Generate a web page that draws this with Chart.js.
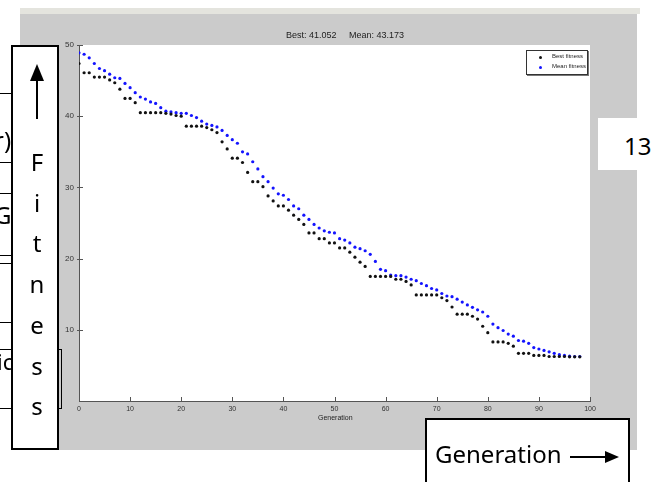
<!DOCTYPE html>
<html>
<head>
<meta charset="utf-8">
<script src="https://cdn.jsdelivr.net/npm/chart.js"></script>
<style>
    body { margin: 0; background: #fff; }
    #wrap { position: relative; width: 666px; height: 482px; overflow: hidden; }
    #ga-chart { position: absolute; left: 0; top: 0; }
    .ov { position: absolute; }
    .hl { position: absolute; height: 0; border-top: 1px solid #000; }
    .big { font-family: "Noto Sans", "Open Sans", sans-serif; font-size: 24px; color: #000; line-height: 1; }
    .small { font-family: "Liberation Sans Narrow", "Liberation Sans", Arial, sans-serif; color: #222; white-space: pre; }
</style>
</head>
<body>
<div id="wrap">
    <canvas id="ga-chart" width="666" height="482"></canvas>

    <!-- MATLAB title + x label -->
    <div class="ov small" style="left:286px; top:30px; font-size:9px;">Best: 41.052     Mean: 43.173</div>
    <div class="ov small" style="left:318px; top:414px; font-size:7px;">Generation</div>

    <!-- legend box -->
    <div class="ov" style="left:526px; top:50px; width:60px; height:23px; background:#fff; border:1px solid #333; box-shadow:1px 1px 0 #777;">
        <div class="ov" style="left:12px; top:5px; width:3px; height:3px; border-radius:2px; background:#111;"></div>
        <div class="ov small" style="left:25px; top:2px; font-size:6px;">Best fitness</div>
        <div class="ov" style="left:12px; top:15px; width:3px; height:3px; border-radius:2px; background:#1414ff;"></div>
        <div class="ov small" style="left:25px; top:12px; font-size:6px;">Mean fitness</div>
    </div>

    <!-- table fragments behind the left box -->
    <div class="hl" style="left:0; top:93px; width:14px;"></div>
    <div class="hl" style="left:0; top:162px; width:14px;"></div>
    <div class="hl" style="left:0; top:193px; width:14px;"></div>
    <div class="hl" style="left:0; top:255px; width:14px;"></div>
    <div class="hl" style="left:0; top:263px; width:14px;"></div>
    <div class="hl" style="left:0; top:322px; width:14px;"></div>
    <div class="ov" style="left:-2px; top:349px; width:62px; height:58px; border:1px solid #000;"></div>
    <div class="ov big" style="left:-6px; top:128px;">r)</div>
    <div class="ov big" style="left:-6px; top:203px;">G)</div>
    <div class="ov big" style="left:-3px; top:350px; font-size:22px;">ic</div>

    <!-- Fitness box -->
    <div class="ov" style="left:11px; top:45px; width:44px; height:401px; background:#fff; border:2px solid #000;">
        <svg class="ov" style="left:0; top:0;" width="44" height="80">
            <line x1="24" y1="30" x2="24" y2="72" stroke="#000" stroke-width="2"/>
            <polygon points="24,17 17,34 31,34" fill="#000"/>
        </svg>
        <div class="ov big" style="left:0; width:48px; text-align:center; top:95px; line-height:40.7px;">F<br>i<br>t<br>n<br>e<br>s<br>s</div>
    </div>

    <!-- page number -->
    <div class="ov" style="left:598px; top:118px; width:68px; height:52px; background:#fff;"></div>
    <div class="ov big" style="left:624px; top:134px;">13</div>

    <!-- Generation box -->
    <div class="ov" style="left:425px; top:418px; width:201px; height:80px; background:#fff; border:2px solid #000;">
        <div class="ov big" style="left:8px; top:22px;">Generation</div>
        <svg class="ov" style="left:140px; top:25px;" width="56" height="24">
            <line x1="3" y1="12" x2="40" y2="12" stroke="#000" stroke-width="2"/>
            <polygon points="52,12 38,6 38,18" fill="#000"/>
        </svg>
    </div>
</div>

<script>
// 世代番号
const generations = [
    0, 1, 2, 3, 4, 5, 6, 7, 8, 9,
    10, 11, 12, 13, 14, 15, 16, 17, 18, 19,
    20, 21, 22, 23, 24, 25, 26, 27, 28, 29,
    30, 31, 32, 33, 34, 35, 36, 37, 38, 39,
    40, 41, 42, 43, 44, 45, 46, 47, 48, 49,
    50, 51, 52, 53, 54, 55, 56, 57, 58, 59,
    60, 61, 62, 63, 64, 65, 66, 67, 68, 69,
    70, 71, 72, 73, 74, 75, 76, 77, 78, 79,
    80, 81, 82, 83, 84, 85, 86, 87, 88, 89,
    90, 91, 92, 93, 94, 95, 96, 97, 98
];

// Best fitness (black dots)
const bestFitness = [
    47.4, 46.1, 46.1, 45.5, 45.5, 45.5, 45.1, 44.7, 43.8, 42.5,
    42.5, 41.9, 40.5, 40.5, 40.5, 40.5, 40.5, 40.4, 40.3, 40.1,
    40.0, 38.6, 38.6, 38.6, 38.6, 38.4, 38.1, 37.7, 36.4, 35.4,
    34.1, 34.1, 33.5, 32.1, 30.8, 30.8, 30.1, 28.8, 28.1, 27.4,
    27.4, 26.8, 26.1, 25.5, 24.8, 23.6, 23.6, 22.8, 22.8, 22.2,
    22.2, 21.5, 21.5, 20.9, 20.2, 19.5, 18.9, 17.5, 17.5, 17.5,
    17.5, 17.5, 17.1, 17.1, 16.8, 16.3, 14.9, 14.9, 14.9, 14.9,
    14.9, 14.5, 14.1, 13.2, 12.2, 12.2, 12.2, 11.9, 11.5, 10.5,
    9.6, 8.3, 8.3, 8.3, 8.1, 7.7, 6.7, 6.7, 6.7, 6.4,
    6.4, 6.4, 6.25, 6.25, 6.25, 6.25, 6.2, 6.2, 6.2
];

// Mean fitness (blue dots)
const meanFitness = [
    48.9, 48.7, 48.2, 47.4, 46.7, 46.4, 45.9, 45.4, 45.3, 44.6,
    44.0, 43.3, 42.7, 42.4, 42.0, 41.8, 41.2, 40.7, 40.6, 40.5,
    40.4, 40.4, 40.1, 39.8, 39.3, 38.9, 38.7, 38.5, 38.0, 37.3,
    36.7, 36.2, 35.0, 34.7, 33.6, 32.6, 31.5, 30.8, 29.9, 29.1,
    28.9, 28.3, 27.4, 27.0, 26.1, 25.5, 24.8, 24.3, 23.9, 23.7,
    23.6, 22.8, 22.6, 22.2, 21.6, 21.4, 21.1, 20.6, 19.6, 18.5,
    18.3, 17.7, 17.6, 17.6, 17.4, 17.1, 16.9, 16.5, 16.2, 15.8,
    15.6, 15.1, 14.75, 14.65, 14.3, 13.9, 13.5, 13.15, 12.8, 12.5,
    11.9, 10.8, 10.3, 9.9, 9.4, 9.1, 8.5, 8.4, 8.1, 7.5,
    7.3, 7.1, 6.9, 6.7, 6.5, 6.4, 6.3, 6.25, 6.25
];

// 軸の目盛り
const xTicks = [0, 10, 20, 30, 40, 50, 60, 70, 80, 90, 100];
const yTicks = [10, 20, 30, 40, 50];

const tickFont = { family: "'Liberation Sans Narrow', 'Liberation Sans', Arial, sans-serif", size: 7 };

// --- figure の灰色背景と白い描画領域 ---
const figureBackground = {
    id: 'figureBackground',
    beforeDraw(chart) {
        const ctx = chart.ctx;
        const a = chart.chartArea;
        ctx.save();
        ctx.fillStyle = '#ffffff';
        ctx.fillRect(0, 0, chart.width, chart.height);
        ctx.fillStyle = '#e4e4de';
        ctx.fillRect(20, 8, 620, 6);
        ctx.fillStyle = '#cbcbcb';
        ctx.fillRect(20, 14, 617, 436);
        ctx.fillStyle = '#ffffff';
        ctx.fillRect(a.left, a.top, a.right - a.left, a.bottom - a.top);
        ctx.restore();
    }
};

// --- MATLAB風の内向き目盛り線 ---
const innerTicks = {
    id: 'innerTicks',
    afterDraw(chart) {
        const ctx = chart.ctx;
        const a = chart.chartArea;
        const xs = chart.scales.x;
        const ys = chart.scales.y;
        ctx.save();
        ctx.strokeStyle = '#555';
        ctx.lineWidth = 1;
        ctx.beginPath();
        xTicks.forEach(v => {
            const px = Math.round(xs.getPixelForValue(v)) + 0.5;
            ctx.moveTo(px, a.bottom);
            ctx.lineTo(px, a.bottom - 4);
        });
        yTicks.forEach(v => {
            const py = Math.round(ys.getPixelForValue(v)) + 0.5;
            ctx.moveTo(a.left - 2, py);
            ctx.lineTo(a.left + 4, py);
        });
        ctx.stroke();
        ctx.restore();
    }
};

new Chart(document.getElementById('ga-chart').getContext('2d'), {
    type: 'scatter',
    data: {
        datasets: [
            {
                label: 'Best fitness',
                data: generations.map((g, i) => ({ x: g, y: bestFitness[i] })),
                backgroundColor: '#111111',
                borderWidth: 0,
                pointRadius: 1.6
            },
            {
                label: 'Mean fitness',
                data: generations.map((g, i) => ({ x: g, y: meanFitness[i] })),
                backgroundColor: '#1414ff',
                borderWidth: 0,
                pointRadius: 1.6
            }
        ]
    },
    options: {
        responsive: false,
        animation: false,
        devicePixelRatio: 1,
        layout: { padding: { left: 0, top: 45, right: 76, bottom: 0 } },
        plugins: {
            legend: { display: false },
            tooltip: { enabled: false },
            title: { display: false }
        },
        scales: {
            x: {
                type: 'linear',
                min: 0,
                max: 100,
                afterBuildTicks: scale => { scale.ticks = xTicks.map(v => ({ value: v })); },
                afterFit: scale => { scale.height = 81; },
                grid: { display: false, drawTicks: false },
                border: { display: true, color: '#555' },
                ticks: { font: tickFont, color: '#333', padding: 4, maxRotation: 0, autoSkip: false }
            },
            y: {
                type: 'linear',
                min: 0,
                max: 50,
                afterBuildTicks: scale => { scale.ticks = yTicks.map(v => ({ value: v })); },
                afterFit: scale => { scale.width = 79; },
                grid: { display: false, drawTicks: false },
                border: { display: true, color: '#555' },
                ticks: { font: { ...tickFont, size: 8 }, color: '#333', padding: 5, autoSkip: false }
            }
        }
    },
    plugins: [figureBackground, innerTicks]
});
</script>
</body>
</html>
